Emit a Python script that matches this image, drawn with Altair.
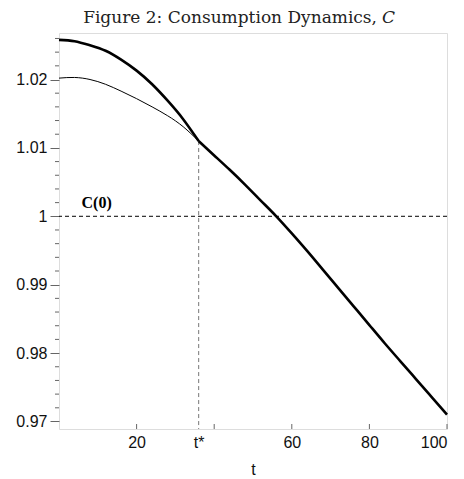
import altair as alt
import pandas as pd

# Consumption paths before the switch date t*
t_pre = [0, 4, 8, 12, 16, 20, 24, 28, 32, 36]
c_announced = [1.0258, 1.0256, 1.0250, 1.0242, 1.0229, 1.0213, 1.0193, 1.0169, 1.0142, 1.0110]
c_baseline = [1.0202, 1.0203, 1.0200, 1.0193, 1.0183, 1.0172, 1.0160, 1.0147, 1.0131, 1.0110]

# Common path after t*
t_post = [36, 40, 44, 48, 52, 56, 60, 64, 68, 72, 76, 80, 84, 88, 92, 96, 100]
c_post = [1.0110, 1.0089, 1.0068, 1.0046, 1.0023, 1.0000, 0.9975, 0.9949, 0.9922,
          0.9895, 0.9868, 0.9841, 0.9814, 0.9788, 0.9762, 0.9736, 0.9710]

t_star = 36
c_star = 1.0110
c_zero = 1.0

x_tick_values = [20, 40, 60, 80, 100]
x_label_values = [20, 36, 60, 80, 100]
y_major = [0.97, 0.98, 0.99, 1.00, 1.01, 1.02]
y_minor = [0.972, 0.974, 0.976, 0.978, 0.982, 0.984, 0.986, 0.988,
           0.992, 0.994, 0.996, 0.998, 1.002, 1.004, 1.006, 1.008,
           1.012, 1.014, 1.016, 1.018, 1.022, 1.024, 1.026]

title_main = "Figure 2: Consumption Dynamics,"
title_var = "C"
level_label = "C(0)"

W, H = 388, 396
SANS = "Liberation Sans"
SERIF = "DejaVu Serif"
FRAME = "#666666"

x_scale = alt.Scale(domain=[0, 100], nice=False, zero=False)
y_scale = alt.Scale(domain=[0.9689, 1.0268], nice=False, zero=False)

x_axis = alt.Axis(
    values=x_label_values,
    labelExpr=f"datum.value == {t_star} ? 't*' : datum.label",
    ticks=False, domain=False, grid=False,
    labelFont=SANS, labelFontSize=16, labelColor="#111111", labelPadding=5,
    title="t", titleFont=SANS, titleFontSize=16, titleFontWeight="normal",
    titleColor="#111111", titleY=45, titleBaseline="alphabetic",
)
y_axis = alt.Axis(
    values=y_major, format=".2~f",
    tickSize=9, tickColor=FRAME, domain=False, grid=False,
    labelFont=SANS, labelFontSize=16, labelColor="#111111", labelPadding=3,
    title=None,
)

X = alt.X("t:Q", scale=x_scale, axis=x_axis)
Y = alt.Y("C:Q", scale=y_scale, axis=y_axis)

pre_df = pd.DataFrame({"t": t_pre, "C": c_announced, "seg": "pre"})
post_df = pd.DataFrame({"t": t_post, "C": c_post, "seg": "post"})
thick_df = pd.concat([pre_df, post_df], ignore_index=True)
thin_df = pd.DataFrame({"t": t_pre, "C": c_baseline})

thin = alt.Chart(thin_df).mark_line(
    color="black", strokeWidth=1, interpolate="natural"
).encode(x=X, y=Y)

thick = alt.Chart(thick_df).mark_line(
    color="black", strokeWidth=2.6, interpolate="natural"
).encode(x=X, y=Y, detail="seg:N")

level = alt.Chart(pd.DataFrame({"C": [c_zero]})).mark_rule(
    color="black", strokeWidth=1, strokeDash=[4, 3]
).encode(y=Y)

switch = alt.Chart(pd.DataFrame({"t": [t_star], "C": [c_star]})).mark_rule(
    color="#777777", strokeWidth=1, strokeDash=[4, 3]
).encode(x=X, y=Y, y2=alt.value(H))

# inward ticks on the time axis
x_ticks = alt.Chart(pd.DataFrame({"t": x_tick_values})).mark_rule(
    color=FRAME, strokeWidth=1
).encode(x=X, y=alt.value(H), y2=alt.value(H - 5))

# minor ticks on the consumption axis
y_ticks = alt.Chart(pd.DataFrame({"C": y_minor})).mark_rule(
    color=FRAME, strokeWidth=1
).encode(y=Y, x=alt.value(-4), x2=alt.value(0))

level_text = alt.Chart(pd.DataFrame({"t": [5.8], "C": [c_zero], "label": [level_label]})).mark_text(
    align="left", baseline="alphabetic", dy=-8,
    font="Liberation Serif", fontSize=16, fontWeight="bold", color="black"
).encode(x=X, y=Y, text="label:N")

title_a = alt.Chart(pd.DataFrame({"label": [title_main]})).mark_text(
    align="right", baseline="alphabetic", font=SERIF, fontSize=17, color="#222222"
).encode(x=alt.value(318), y=alt.value(-10), text="label:N")

title_b = alt.Chart(pd.DataFrame({"label": [title_var]})).mark_text(
    align="left", baseline="alphabetic", font=SERIF, fontSize=17,
    fontStyle="italic", color="#222222"
).encode(x=alt.value(323), y=alt.value(-10), text="label:N")

chart = alt.layer(
    level, switch, x_ticks, y_ticks, thin, thick, level_text, title_a, title_b
).properties(
    width=W, height=H,
    autosize=alt.AutoSizeParams(type="none"),
    padding={"left": 59, "top": 33, "right": 17, "bottom": 50},
).configure_view(
    stroke=FRAME, strokeWidth=1
).configure(background="white")

chart.save("out.html", embed_options={"renderer": "svg", "actions": False})
